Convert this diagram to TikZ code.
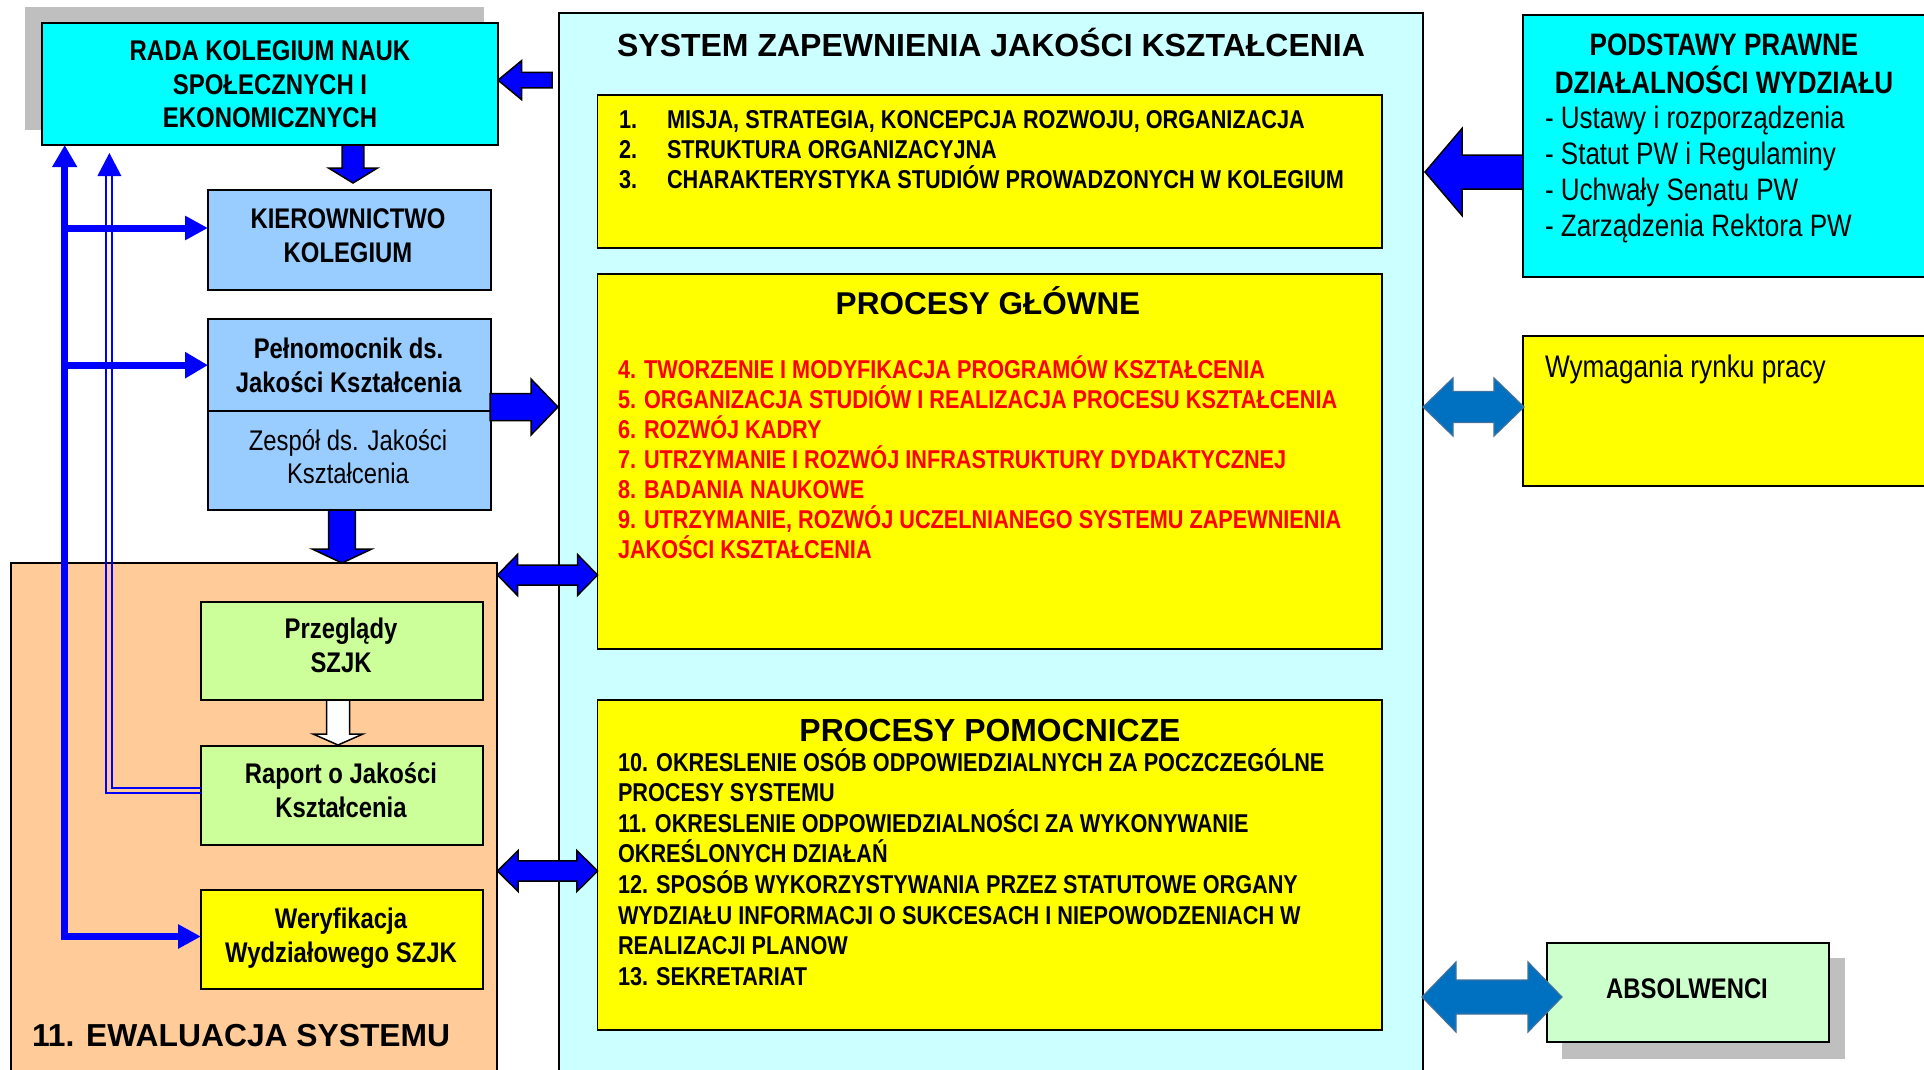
\documentclass[tikz,border=0pt]{standalone}
\usepackage{fontspec}
\setmainfont{Liberation Sans}
\newfontfamily\narrowfont{Liberation Sans}[FakeStretch=0.84]
\usetikzlibrary{calc,arrows.meta}

\definecolor{radacyan}{HTML}{00FFFF}
\definecolor{shadowgray}{HTML}{BFBFBF}
\definecolor{syscyan}{HTML}{CCFFFF}
\definecolor{procyellow}{HTML}{FFFF00}
\definecolor{mgmtblue}{HTML}{99CCFF}
\definecolor{evalorange}{HTML}{FFCC99}
\definecolor{evalgreen}{HTML}{CCFF99}
\definecolor{gradgreen}{HTML}{CCFFCC}
\definecolor{arrowblue}{HTML}{0000FF}
\definecolor{steelfill}{HTML}{0070C0}
\definecolor{steeledge}{HTML}{41719C}
\definecolor{listred}{HTML}{FF0000}

% strut that fixes the height of a first text line to one em
\newcommand{\lnstrut}{\rule{0pt}{1em}}
% block arrow: style, tip, direction, length, half shaft, half head, head length
\newcommand{\blockarrow}[7]{\path[#1,shift={#2},rotate=#3] (0,0) -- (-#7,#6) -- (-#7,#5) -- (-#4,#5) -- (-#4,-#5) -- (-#7,-#5) -- (-#7,-#6) -- cycle;}
% two-headed block arrow: style, right tip, length, half shaft, half head, head length
\newcommand{\twinarrow}[6]{\path[#1,shift={#2}] (0,0) -- (-#6,#5) -- (-#6,#4) -- ({-#3+#6},#4) -- ({-#3+#6},#5) -- (-#3,0) -- ({-#3+#6},-#5) -- ({-#3+#6},-#4) -- (-#6,-#4) -- (-#6,-#5) -- cycle;}

\tikzset{
  box/.style={draw=black, line width=1.8, anchor=north west, inner sep=0, outer sep=0},
  shadowbox/.style={fill=shadowgray, anchor=north west, inner sep=0, outer sep=0},
  lbl/.style={inner sep=0, outer sep=0},
  nb/.style 2 args={font=\narrowfont\bfseries\fontsize{#1}{#2}\selectfont},
  nr/.style 2 args={font=\narrowfont\fontsize{#1}{#2}\selectfont},
  wb/.style={font=\bfseries\fontsize{#1}{#1}\selectfont},
  barrow/.style={draw=black, fill=arrowblue, line width=1.5},
  warrow/.style={draw=black, fill=white, line width=1.5},
  sarrow/.style={draw=steeledge, fill=steelfill, line width=1.2},
  bus/.style={draw=arrowblue, line width=7},
  rail/.style={draw=arrowblue, line width=2},
}

\begin{document}
\begin{tikzpicture}[x=1pt, y=-1pt]
\useasboundingbox (0,0) rectangle (1924,1070);
\clip (0,0) rectangle (1924,1070);
\fill[white] (0,0) rectangle (1924,1070);

% ---- left column: council and management
\node[shadowbox, minimum width=459, minimum height=123] (radashadow) at (24.7,6.7) {};
\node[box, fill=radacyan, minimum width=456, minimum height=121.7] (rada) at (42,23.3) {};
\node[box, fill=mgmtblue, minimum width=283, minimum height=100] (kier) at (208,190) {};
\node[box, fill=mgmtblue, minimum width=283, minimum height=91.7] (pel) at (208,319.3) {};
\node[box, fill=mgmtblue, minimum width=283, minimum height=99] (zesp) at (208,411) {};

% ---- evaluation block
\node[box, fill=evalorange, minimum width=486, minimum height=530] (orange) at (11,563) {};
\node[box, fill=evalgreen, minimum width=282, minimum height=98.3] (przeg) at (201,601.7) {};
\node[box, fill=evalgreen, minimum width=282, minimum height=99] (raport) at (201,746) {};
\node[box, fill=procyellow, minimum width=282, minimum height=99] (wer) at (201,890) {};

% ---- quality system
\node[box, fill=syscyan, minimum width=864, minimum height=1080] (sys) at (559,13.3) {};
\node[box, fill=procyellow, minimum width=784.5, minimum height=153] (y1) at (597.5,95) {};
\node[box, fill=procyellow, minimum width=784.5, minimum height=375] (y2) at (597.5,274) {};
\node[box, fill=procyellow, minimum width=784.5, minimum height=330] (y3) at (597.5,700) {};

% ---- right column
\node[box, fill=radacyan, minimum width=403, minimum height=261.4] (podst) at (1523,15.3) {};
\node[box, fill=procyellow, minimum width=403, minimum height=150] (wym) at (1523,336) {};
\node[shadowbox, minimum width=283, minimum height=101] (absolshadow) at (1562,958) {};
\node[box, fill=gradgreen, minimum width=282, minimum height=99] (absol) at (1547,943) {};

% ---- texts
\node[lbl, nb={28.5}{33.7}, align=center, anchor=north] (radatxt) at (270,31.8)
  {\lnstrut RADA KOLEGIUM NAUK\\SPOŁECZNYCH I\\EKONOMICZNYCH};
\node[lbl, nb={28.4}{34}, align=center, anchor=north] (kiertxt) at (348,200.2)
  {\lnstrut KIEROWNICTWO\\KOLEGIUM};
\node[lbl, nb={28.4}{34}, align=center, anchor=north] (peltxt) at (348.6,330.2)
  {\lnstrut Pełnomocnik ds.\\Jakości Kształcenia};
\node[lbl, nr={28.4}{33.3}, align=center, anchor=north] (zesptxt) at (348,421.9)
  {\lnstrut Zespół ds. Jakości\\Kształcenia};
\node[lbl, nb={28.4}{34}, align=center, anchor=north] (przegtxt) at (341,610.2)
  {\lnstrut Przeglądy\\SZJK};
\node[lbl, nb={28.4}{34}, align=center, anchor=north] (raporttxt) at (341,755.2)
  {\lnstrut Raport o Jakości\\Kształcenia};
\node[lbl, nb={28.4}{34}, align=center, anchor=north] (wertxt) at (341,900.2)
  {\lnstrut Weryfikacja\\Wydziałowego SZJK};
\node[lbl, wb={31.8}, anchor=base west] (evaltxt) at (32,1046) {11. EWALUACJA SYSTEMU};

\node[lbl, wb={32}, anchor=base] (systxt) at (991,56.2) {SYSTEM ZAPEWNIENIA JAKOŚCI KSZTAŁCENIA};
\node[lbl, nb={25.8}{30}, align=left, anchor=north west] (y1num) at (619,102.7)
  {\lnstrut 1.\\2.\\3.};
\node[lbl, nb={25.8}{30}, align=left, anchor=north west] (y1txt) at (667,102.7)
  {\lnstrut MISJA, STRATEGIA, KONCEPCJA ROZWOJU, ORGANIZACJA\\STRUKTURA ORGANIZACYJNA\\CHARAKTERYSTYKA STUDIÓW PROWADZONYCH W KOLEGIUM};
\node[lbl, wb={31.5}, anchor=base] (y2head) at (988,314.3) {PROCESY GŁÓWNE};
\node[lbl, nb={25.8}{30.1}, text=listred, align=left, anchor=north west] (y2txt) at (618,352.2)
  {\lnstrut 4. TWORZENIE I MODYFIKACJA PROGRAMÓW KSZTAŁCENIA\\
   5. ORGANIZACJA STUDIÓW I REALIZACJA PROCESU KSZTAŁCENIA\\
   6. ROZWÓJ KADRY\\
   7. UTRZYMANIE I ROZWÓJ INFRASTRUKTURY DYDAKTYCZNEJ\\
   8. BADANIA NAUKOWE\\
   9. UTRZYMANIE, ROZWÓJ UCZELNIANEGO SYSTEMU ZAPEWNIENIA\\
   JAKOŚCI KSZTAŁCENIA};
\node[lbl, wb={31.9}, anchor=base] (y3head) at (990,741) {PROCESY POMOCNICZE};
\node[lbl, nb={25.8}{30.57}, align=left, anchor=north west] (y3txt) at (618,745.4)
  {\lnstrut 10. OKRESLENIE OSÓB ODPOWIEDZIALNYCH ZA POCZCZEGÓLNE\\
   PROCESY SYSTEMU\\
   11. OKRESLENIE ODPOWIEDZIALNOŚCI ZA WYKONYWANIE\\
   OKREŚLONYCH DZIAŁAŃ\\
   12. SPOSÓB WYKORZYSTYWANIA PRZEZ STATUTOWE ORGANY\\
   WYDZIAŁU INFORMACJI O SUKCESACH I NIEPOWODZENIACH W\\
   REALIZACJI PLANOW\\
   13. SEKRETARIAT};

\node[lbl, nb={31}{38.4}, align=center, anchor=north] (podsthead) at (1724,24.5)
  {\lnstrut PODSTAWY PRAWNE\\DZIAŁALNOŚCI WYDZIAŁU};
\node[lbl, nr={31}{36}, align=left, anchor=north west] (podstlist) at (1545,97.9)
  {\lnstrut - Ustawy i rozporządzenia\\- Statut PW i Regulaminy\\- Uchwały Senatu PW\\- Zarządzenia Rektora PW};
\node[lbl, nr={31.2}{36}, anchor=base west] (wymtxt) at (1545,377.3) {Wymagania rynku pracy};
\node[lbl, nb={28.4}{34}, anchor=base] (absoltxt) at (1687,998.6) {ABSOLWENCI};

% ---- block arrows
\blockarrow{barrow}{($(rada.east)+(0,-4)$)}{180}{54}{7.8}{19.5}{23.6}
\blockarrow{barrow}{($(sys.east |- podst.west)+(2,26)$)}{180}{98}{17}{43.5}{37}
\blockarrow{barrow}{($(kier.north)+(3.5,-7)$)}{-90}{38}{10.9}{24.5}{15}
\blockarrow{barrow}{($(sys.west |- zesp.north)+(-1,-4)$)}{0}{68}{13.5}{28}{27}
\blockarrow{barrow}{($(zesp.south |- orange.north)+(-7.5,0)$)}{-90}{53}{13.3}{29.8}{14}
\blockarrow{warrow}{($(raport.north)+(-4,-1)$)}{-90}{45}{11.5}{25}{11}
\twinarrow{barrow}{($(y2.west)+(0,113.5)$)}{100}{10}{20.5}{20}
\twinarrow{barrow}{($(y3.west)+(0,6)$)}{100}{10.2}{20.5}{20.6}
\twinarrow{sarrow}{($(wym.west)+(1,-4)$)}{101}{15.5}{29}{30}
\twinarrow{sarrow}{($(absol.west)+(15,4.5)$)}{140}{17}{35}{34}

% ---- feedback lines on the left
\coordinate (trunk) at (64.7,0);
\coordinate (kierin) at ($(kier.west)+(0,-12)$);
\coordinate (railtip) at (109.4,153);
\draw[bus, {Triangle[length=22pt,width=23.6pt]}-{Triangle[length=23pt,width=23pt]}]
  (rada.south -| trunk) |- ($(wer.west)+(0,-3)$);
\draw[bus, -{Triangle[length=23pt,width=23pt]}] (trunk |- kierin) -- (kierin);
\draw[bus, -{Triangle[length=23pt,width=25pt]}] (trunk |- pel.west) -- (pel.west);
\draw[rail] ($(raport.west)+(0,-7.2)$) -| ($(railtip)+(3,23)$);
\draw[rail] ($(raport.west)+(0,-2.2)$) -| ($(railtip)+(-3,23)$);
\fill[arrowblue] (railtip) -- ($(railtip)+(-12,23)$) -- ($(railtip)+(12,23)$) -- cycle;
\end{tikzpicture}
\end{document}
